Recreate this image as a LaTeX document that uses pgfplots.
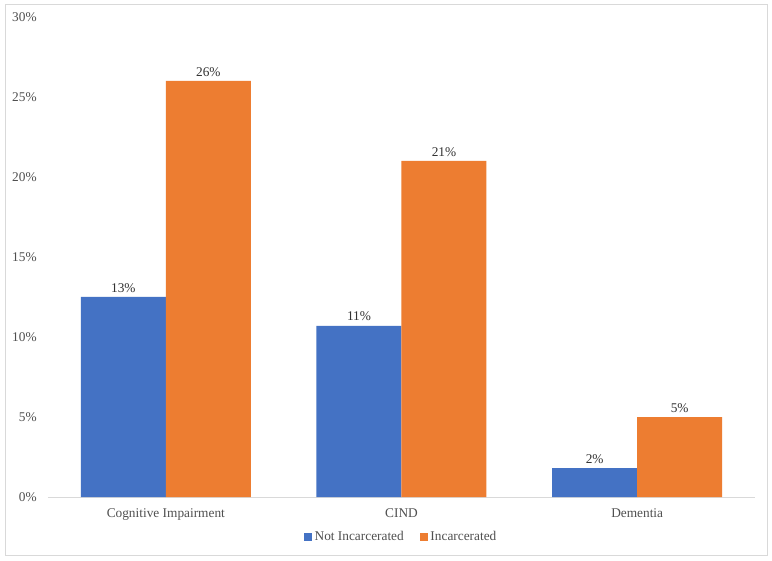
\documentclass[border=0pt]{standalone}
\usepackage{pgfplots}
\pgfplotsset{compat=1.18}
\usepackage{fontspec}
\setmainfont{Liberation Serif}
\definecolor{cblue}{HTML}{4472C4}
\definecolor{corange}{HTML}{ED7D31}
\definecolor{tgray}{HTML}{505050}
\definecolor{lgray}{HTML}{D9D9D9}
\begin{document}
\begin{tikzpicture}
\useasboundingbox[fill=white] (0pt,0pt) rectangle (579pt,420.75pt);
\draw[lgray, line width=0.75pt] (3.75pt,3.75pt) rectangle (575.25pt,417pt);
\begin{axis}[
  at={(36pt,48pt)}, anchor=south west,
  scale only axis,
  width=530.25pt, height=360pt,
  ymin=0, ymax=30,
  xmin=-0.5, xmax=2.5,
  ytick={0,5,...,30},
  xtick={0,1,2},
  xticklabels={Cognitive Impairment,CIND,Dementia},
  yticklabel={\pgfmathprintnumber{\tick}\%},
  /pgf/number format/assume math mode=true,
  ybar=0pt, bar width=63.75pt,
  axis lines*=left,
  x axis line style={lgray, line width=0.75pt, -},
  y axis line style={draw=none},
  tick style={draw=none},
  major tick length=0pt,
  ticklabel style={font=\fontsize{10}{12}\selectfont, text=tgray},
  yticklabel style={xshift=-5pt},
  xticklabel style={yshift=-5pt},
  point meta=explicit,
  nodes near coords={\pgfmathprintnumber{\pgfplotspointmeta}\%},
  nodes near coords style={font=\fontsize{10}{12}\selectfont, text=black!80, /pgf/number format/assume math mode=true},
  legend style={at={(0.5,-0.0833)}, anchor=center, draw=none, legend columns=2,
    font=\fontsize{10}{12}\selectfont, text=tgray,
    /tikz/every even column/.append style={column sep=10pt}},
  legend image code/.code={\fill[#1] (0pt,-3pt) rectangle (6pt,3pt);},
  legend cell align=left,
  clip=false,
]
\addplot[fill=cblue, draw=none] coordinates {(0,12.5) [13] (1,10.7) [11] (2,1.8) [2]};
\addplot[fill=corange, draw=none] coordinates {(0,26) [26] (1,21) [21] (2,5) [5]};
\legend{Not Incarcerated, Incarcerated}
\end{axis}
\end{tikzpicture}
\end{document}
